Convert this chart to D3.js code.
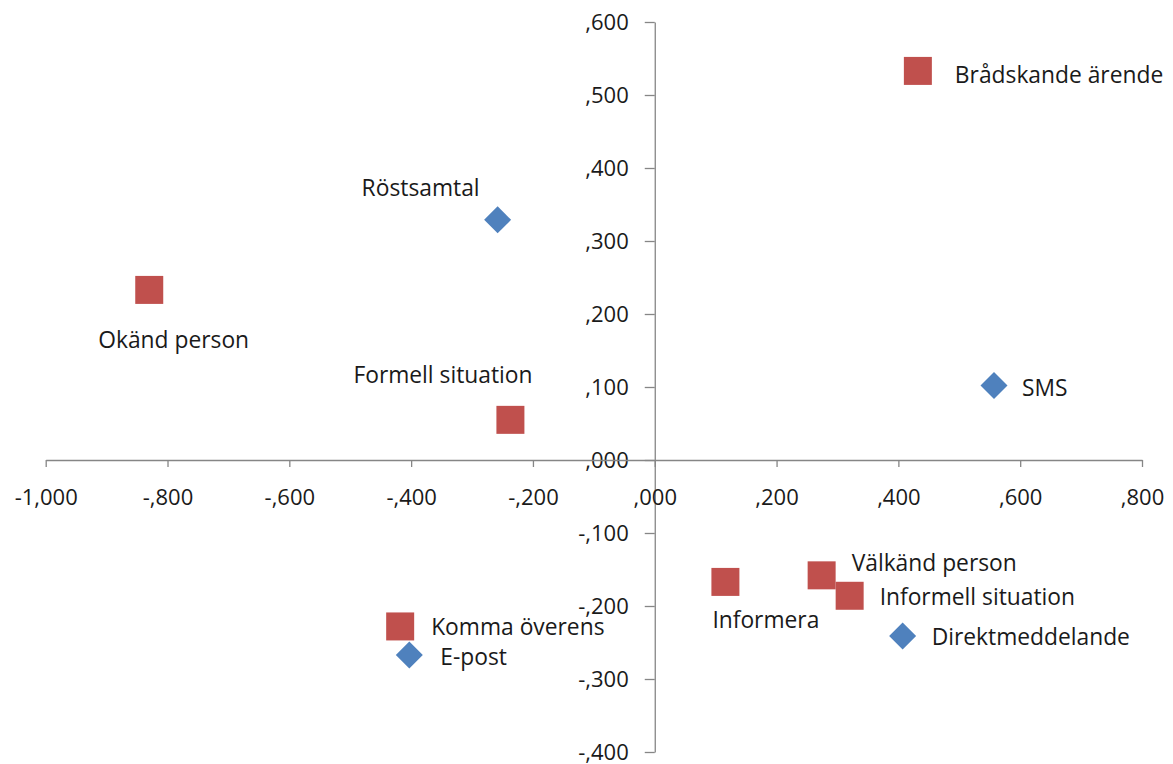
<!DOCTYPE html>
<html>
<head>
<meta charset="utf-8">
<script src="https://cdn.jsdelivr.net/npm/d3@7"></script>
<style>
  html, body { margin: 0; padding: 0; background: #fff; }
  svg { display: block; }
  .axis path, .axis line { stroke: #868686; stroke-width: 1.3; }
  .axis text { font-family: "Open Sans", sans-serif; font-size: 22px; fill: #1a1a1a; }
  .lbl { font-family: "Open Sans", sans-serif; font-size: 22.8px; fill: #1a1a1a; }
</style>
</head>
<body>
<svg id="chart" width="1173" height="764"></svg>
<script>
// ---- data ----
const labels = ["Brådskande ärende", "Röstsamtal", "Okänd person", "Formell situation", "SMS",
                "Välkänd person", "Informell situation", "Informera", "Direktmeddelande",
                "Komma överens", "E-post"];
const xValues = [0.432, -0.258, -0.830, -0.237, 0.557, 0.274, 0.320, 0.116, 0.407, -0.418, -0.403];
const yValues = [0.533, 0.329, 0.233, 0.055, 0.102, -0.158, -0.186, -0.167, -0.241, -0.228, -0.267];
const series = ["situation", "kanal", "situation", "situation", "kanal",
                "situation", "situation", "situation", "kanal", "situation", "kanal"];
const xTicks = [-1.0, -0.8, -0.6, -0.4, -0.2, 0.0, 0.2, 0.4, 0.6, 0.8];
const yTicks = [-0.4, -0.3, -0.2, -0.1, 0.0, 0.1, 0.2, 0.3, 0.4, 0.5, 0.6];

// label placement (pixel offsets of text start / vertical centre from the marker)
const labelDx = [37, -136, -51, -157, 28, 30, 30, -13, 29, 31, 31];
const labelDy = [4, -32, 50, -45, 2, -13, 1, 38, 1, 0, 2];

// ---- layout ----
const svg = d3.select("#chart");
const x = d3.scaleLinear().domain([-1.0, 0.8]).range([45.7, 1142]);
const y = d3.scaleLinear().domain([-0.4, 0.6]).range([752, 22]);

const loc = d3.formatLocale({ decimal: ".", thousands: "", grouping: [3], currency: ["", ""], minus: "-" });
const f3 = loc.format(".3f");
const fmt = v => f3(v).replace(".", ",").replace(/^(-?)0,/, "$1,");

const colors = { situation: "#C0504D", kanal: "#4F81BD" };

// y axis
const yAxis = svg.append("g").attr("class", "axis")
  .attr("transform", `translate(${x(0)},0)`)
  .call(d3.axisLeft(y).tickValues(yTicks).tickFormat(fmt).tickSize(10).tickSizeOuter(0).tickPadding(16));
yAxis.selectAll("text").attr("dy", "0.34em");

// x axis
const xAxis = svg.append("g").attr("class", "axis")
  .attr("transform", `translate(0,${y(0)})`)
  .call(d3.axisBottom(x).tickValues(xTicks).tickFormat(fmt).tickSize(7).tickSizeOuter(0).tickPadding(22));

// points
const data = labels.map((l, i) => ({ label: l, x: xValues[i], y: yValues[i], s: series[i], dx: labelDx[i], dy: labelDy[i] }));

const g = svg.append("g");
const sq = 28, dm = 27;
g.selectAll("path.pt").data(data).join("path")
  .attr("class", "pt")
  .attr("transform", d => `translate(${x(d.x)},${y(d.y)})`)
  .attr("d", d => d.s === "situation"
      ? `M${-sq/2},${-sq/2}h${sq}v${sq}h${-sq}Z`
      : `M0,${-dm/2}L${dm/2},0L0,${dm/2}L${-dm/2},0Z`)
  .attr("fill", d => colors[d.s]);

g.selectAll("text.lbl").data(data).join("text")
  .attr("class", "lbl")
  .attr("x", d => x(d.x) + d.dx)
  .attr("y", d => y(d.y) + d.dy)
  .attr("dy", "0.36em")
  .text(d => d.label);
</script>
</body>
</html>
